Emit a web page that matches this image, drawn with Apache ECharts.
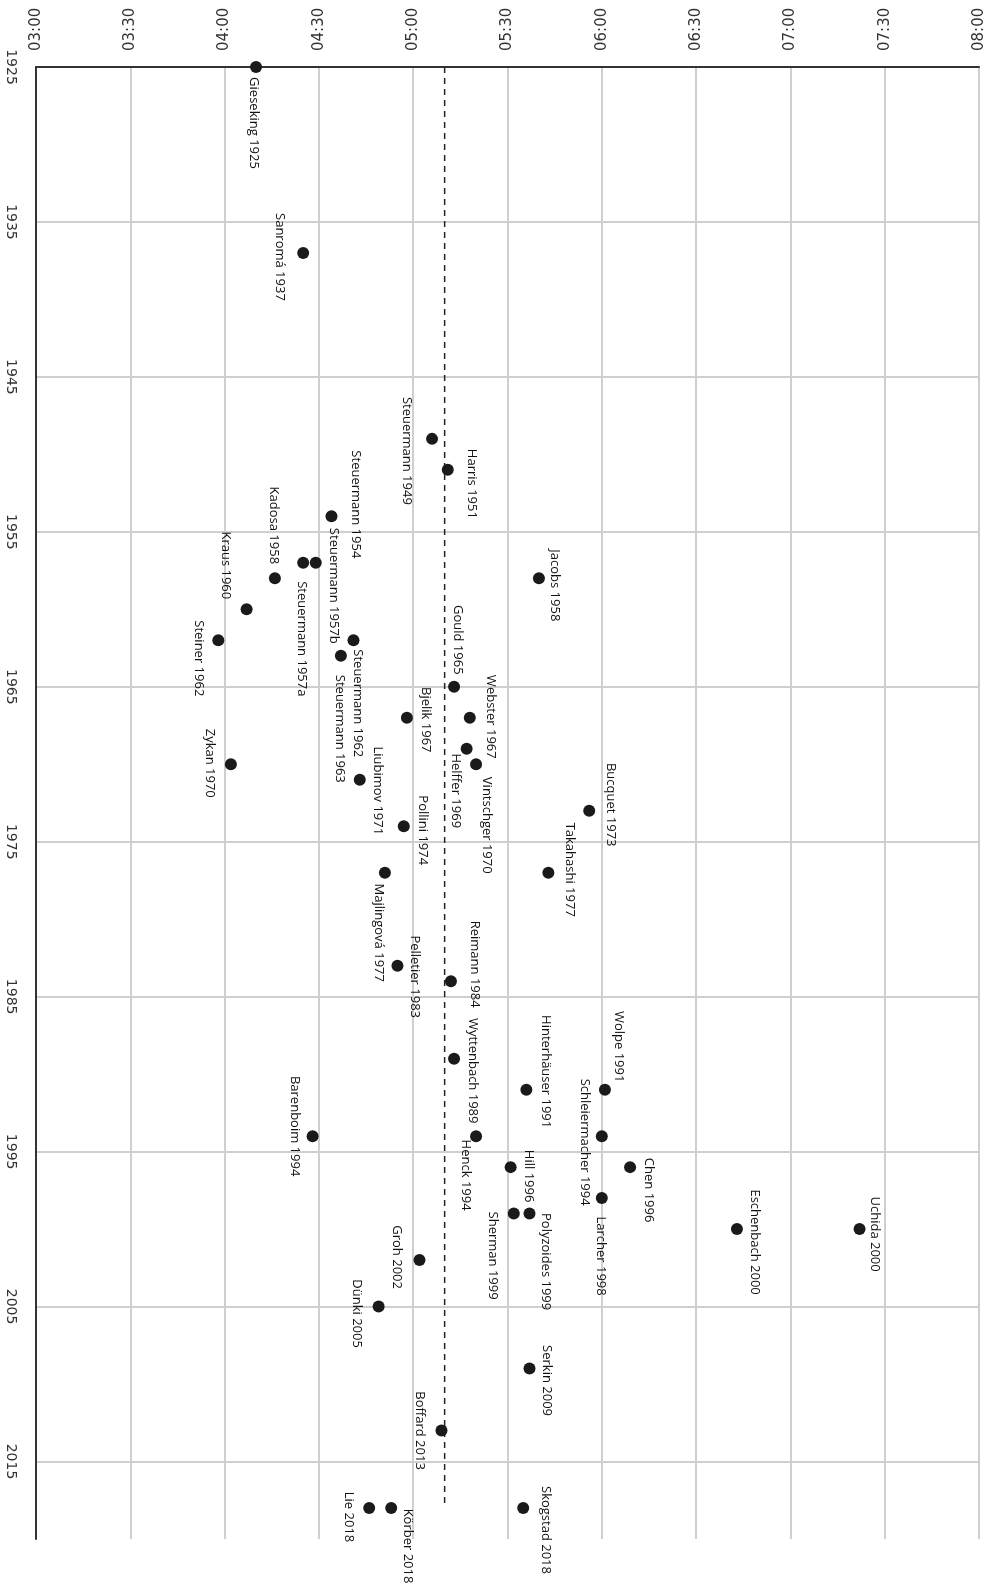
<!DOCTYPE html>
<html>
<head>
<meta charset="utf-8">
<script src="https://cdn.jsdelivr.net/npm/echarts@6/dist/echarts.min.js"></script>
<style>
html,body{margin:0;padding:0;background:#fff;}
#chart{width:997px;height:1585px;}
</style>
</head>
<body>
<div id="chart"></div>
<script>
// ---- data ----
const labels = [
  'Gieseking 1925','Sanromá 1937','Steuermann 1949','Harris 1951','Steuermann 1954',
  'Steuermann 1957a','Steuermann 1957b','Kadosa 1958','Jacobs 1958','Kraus 1960',
  'Steiner 1962','Steuermann 1962','Steuermann 1963','Gould 1965','Bjelik 1967',
  'Webster 1967','Helffer 1969','Vintschger 1970','Zykan 1970','Liubimov 1971',
  'Bucquet 1973','Pollini 1974','Majlingová 1977','Takahashi 1977','Pelletier 1983',
  'Reimann 1984','Wyttenbach 1989','Hinterhäuser 1991','Wolpe 1991','Barenboim 1994',
  'Henck 1994','Schleiermacher 1994','Hill 1996','Chen 1996','Larcher 1998',
  'Sherman 1999','Polyzoides 1999','Eschenbach 2000','Uchida 2000','Groh 2002',
  'Dünki 2005','Serkin 2009','Boffard 2013','Lie 2018','Körber 2018','Skogstad 2018'
];
const years = [
  1925,1937,1949,1951,1954,
  1957,1957,1958,1958,1960,
  1962,1962,1963,1965,1967,
  1967,1969,1970,1970,1971,
  1973,1974,1977,1977,1983,
  1984,1989,1991,1991,1994,
  1994,1994,1996,1996,1998,
  1999,1999,2000,2000,2002,
  2005,2009,2013,2018,2018,2018
];
// durations in seconds
const durations = [
  250,265,306,311,274,
  265,269,256,340,247,
  238,281,277,313,298,
  318,317,320,242,283,
  356,297,291,343,295,
  312,313,336,361,268,
  320,360,331,369,360,
  332,337,403,442,302,
  289,337,309,286,293,335
];
const meanDuration = 310;
const meanYears = [1925, 2018];
const xTicks = { min: 180, max: 480, step: 30 };
const yTicks = { min: 1925, max: 2020, step: 10 };

// ---- label layout (pixel offsets of label centre from its point) ----
const labelOffsets = [
  [-2,56],[-23,4],[-25,12],[24,14],[24,-12],
  [-1,76],[18,23],[-1,-53],[16,7],[-21,-44],
  [-20,18],[4,63],[-1,73],[4,-47],[19,2],
  [21,-1],[-11,42],[11,61],[-21,-1],[18,11],
  [21,-6],[19,4],[-6,60],[21,-3],[17,11],
  [24,-17],[19,12],[19,-18],[14,-43],[-18,-10],
  [-10,39],[-17,6],[18,9],[19,23],[-1,58],
  [-21,42],[16,48],[18,13],[15,5],[-23,-3],
  [-22,7],[17,12],[-22,0],[-20,9],[17,38],[22,22]
];

function fmt(v){
  const m = Math.floor(v/60), s = Math.round(v%60);
  return String(m).padStart(2,'0') + ':' + String(s).padStart(2,'0');
}

const points = years.map((y,i)=>[durations[i], y]);

const chart = echarts.init(document.getElementById('chart'), null, {renderer:'canvas'});
chart.setOption({
  animation: false,
  backgroundColor: '#fff',
  grid: { left: 36, top: 67, right: 18, bottom: 46, containLabel: false },
  xAxis: {
    type: 'value', position: 'top',
    min: xTicks.min, max: xTicks.max, interval: xTicks.step,
    axisLine: { show: true, onZero: false, lineStyle: { color: '#333', width: 2 } },
    axisTick: { show: false },
    axisLabel: { rotate: -90, margin: 16, formatter: fmt, color: '#333',
      fontFamily: 'DejaVu Sans', fontSize: 15 },
    splitLine: { show: true, lineStyle: { color: '#cfcfcf', width: 2 } }
  },
  yAxis: {
    type: 'value', inverse: true,
    min: yTicks.min, max: yTicks.max, interval: yTicks.step,
    axisLine: { show: true, onZero: false, lineStyle: { color: '#333', width: 2 } },
    axisTick: { show: false },
    axisLabel: { rotate: -90, margin: 18, color: '#333', showMaxLabel: false,
      formatter: v => String(v),
      fontFamily: 'DejaVu Sans', fontSize: 14 },
    splitLine: { show: true, showMaxLine: false, lineStyle: { color: '#cfcfcf', width: 2 } }
  },
  series: [
    {
      type: 'line',
      data: meanYears.map(y=>[meanDuration, y]),
      symbol: 'none',
      lineStyle: { color: '#222', width: 1.5, type: [6,5] },
      z: 2, silent: true
    },
    {
      type: 'scatter',
      data: points,
      symbolSize: 12,
      itemStyle: { color: '#1a1a1a', opacity: 1 },
      z: 4
    },
    {
      type: 'custom',
      data: points,
      z: 5,
      clip: false,
      renderItem: function(params, api){
        const i = params.dataIndex;
        const p = api.coord([api.value(0), api.value(1)]);
        const off = labelOffsets[i];
        return {
          type: 'text',
          x: p[0] + off[0],
          y: p[1] + off[1],
          rotation: -Math.PI/2,
          style: {
            text: labels[i],
            fill: '#111',
            font: '13px "Open Sans"',
            align: 'center',
            verticalAlign: 'middle',
            textAlign: 'center',
            textVerticalAlign: 'middle'
          }
        };
      }
    }
  ]
});
</script>
</body>
</html>
